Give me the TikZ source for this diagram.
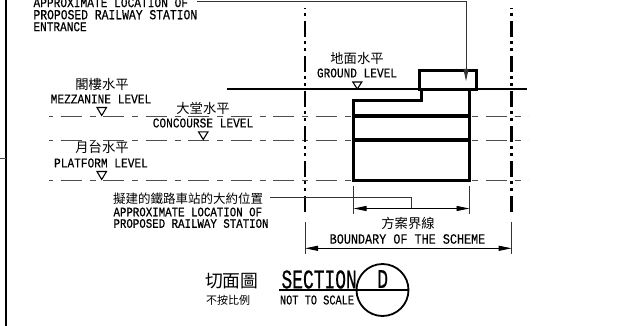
\documentclass[tikz,border=0pt]{standalone}
\usepackage{fontspec}
\usepackage{graphicx}
\usetikzlibrary{arrows.meta}
\newfontfamily\monof[FakeBold=0.3]{Liberation Mono}
\newfontfamily\monob[FakeBold=0.7]{Liberation Mono}
\newfontfamily\cjkf{Noto Sans CJK TC}
% #1 char advance in px (font size = adv/0.6), #2 vertical stretch, #3 text
\newcommand{\mtxt}[3]{\scalebox{1}[#2]{\fontsize{\fpeval{#1/0.6}pt}{12pt}\monof #3}}
\newcommand{\btxt}[3]{\scalebox{1}[#2]{\fontsize{\fpeval{#1/0.6}pt}{12pt}\monob #3}}
\newcommand{\ctxt}[2]{{\fontsize{#1pt}{#1pt}\cjkf #2}}
\tikzset{
  x=1pt,y=-1pt,
  lab/.style={inner sep=0pt,outer sep=0pt,text=black},
  labl/.style={lab,anchor=west},
  thickline/.style={line width=3pt,black,line cap=rect},
  border/.style={line width=2.6pt,black},
  thin leader/.style={line width=0.9pt,black!80},
  levelline/.style={line width=1pt,black!70,dash pattern=on 21pt off 8pt on 6pt off 7.5pt},
  axisline/.style={line width=2.7pt,black,dash pattern=on 16pt off 4pt on 3pt off 4pt on 3pt off 5pt,dash phase=22pt},
  dim/.style={line width=0.9pt,black,{Triangle[length=13pt,width=5pt]}-{Triangle[length=13pt,width=5pt]}},
  ext/.style={line width=0.8pt,black!80},
  tri/.style={line width=1.1pt,black,fill=white},
}
\begin{document}
\begin{tikzpicture}
\useasboundingbox (0,0) rectangle (620,326);
\fill[white] (0,0) rectangle (620,326);
% sheet border
\coordinate (bt) at (6,0); \coordinate (bb) at (6,326);
\coordinate (tl) at (0,158); \coordinate (tr) at (6,158);
\draw[border] (bt) -- (bb);
\draw[line width=0.9pt,black!70] (tl) -- (tr);
% level lines
\coordinate (m1) at (49,116); \coordinate (m2) at (528,116);
\coordinate (c1) at (49,140); \coordinate (c2) at (528,140);
\coordinate (p1) at (49,180); \coordinate (p2) at (528,180);
\draw[levelline,dash phase=31pt] (m1) -- (m2);
\draw[levelline,dash phase=31pt] (c1) -- (c2);
\draw[levelline,dash phase=31pt] (p1) -- (p2);
% axes
\coordinate (a1t) at (305,8); \coordinate (a1b) at (305,213);
\coordinate (a2t) at (511.7,8); \coordinate (a2b) at (511.7,213);
\draw[axisline] (a1t) -- (a1b);
\draw[axisline] (a2t) -- (a2b);
% ground
\coordinate (g1) at (227,88.5); \coordinate (g2) at (526.5,90.5);
\fill[black] (g1) rectangle (g2);
% station
\draw[thickline,line join=miter] (353.5,180) -- (353.5,100.5) -- (421,100.5) -- (421,89.5);
\draw[thickline] (353.5,180) -- (469.5,180) -- (469.5,89.5);
\draw[thickline] (419,89.5) -- (419,70.5) -- (476.5,70.5) -- (476.5,89.5) -- cycle;
\fill[black] (353.5,114.4) rectangle (469.5,117.6);
\fill[black] (353.5,138.4) rectangle (469.5,141.6);
% level triangles
\draw[tri] (352.8,82) -- (361.8,82) -- (357.3,89) -- cycle;
\draw[tri] (97,107.5) -- (106.5,107.5) -- (101.7,115.5) -- cycle;
\draw[tri] (198.5,131.8) -- (208,131.8) -- (203.2,139.5) -- cycle;
\draw[tri] (97,171.5) -- (106.5,171.5) -- (101.7,179.5) -- cycle;
% top label
\node[labl] (e1) at (33.5,2.6) {\btxt{6.72}{1.22}{APPROXIMATE LOCATION OF}};
\node[labl] (e2) at (33.5,14.7) {\btxt{6.82}{1.22}{PROPOSED RAILWAY STATION}};
\node[labl] (e3) at (33.5,26.7) {\btxt{6.65}{1.22}{ENTRANCE}};
\coordinate (el0) at (197,1.5); \coordinate (el1) at (466,1.5); \coordinate (el2) at (466,81);
\draw[thin leader,-{Triangle[length=12pt,width=5pt]}] (el0) -- (el1) -- (el2);
% level labels
\node[lab] (mz) at (102,84) {\ctxt{13.3}{閣樓水平}};
\node[lab] (mze) at (101,99) {\mtxt{6.7}{1.2}{MEZZANINE LEVEL}};
\node[lab] (cc) at (203,108) {\ctxt{13.3}{大堂水平}};
\node[lab] (cce) at (203,123) {\mtxt{6.7}{1.2}{CONCOURSE LEVEL}};
\node[lab] (pf) at (102,147) {\ctxt{13.3}{月台水平}};
\node[lab] (pfe) at (101,163) {\mtxt{6.7}{1.2}{PLATFORM LEVEL}};
\node[lab] (gl) at (357,58) {\ctxt{13.3}{地面水平}};
\node[lab] (gle) at (357,73) {\mtxt{6.67}{1.2}{GROUND LEVEL}};
% station label
\node[labl] (st) at (113,199) {\ctxt{12.5}{擬建的鐵路車站的大約位置}};
\node[labl] (ste1) at (113.5,212) {\btxt{6.46}{1.2}{APPROXIMATE LOCATION OF}};
\node[labl] (ste2) at (113.5,223.5) {\btxt{6.46}{1.2}{PROPOSED RAILWAY STATION}};
\coordinate (sl0) at (270,197.5); \coordinate (sl1) at (411.7,197.5); \coordinate (sl2) at (411.7,208.5);
\draw[thin leader] (sl0) -- (sl1) -- (sl2);
% inner dimension
\coordinate (d1) at (353.5,208.5); \coordinate (d2) at (469.5,208.5);
\coordinate (d1t) at (353.5,186); \coordinate (d1b) at (353.5,214);
\coordinate (d2t) at (469.5,186); \coordinate (d2b) at (469.5,214);
\draw[ext] (d1t) -- (d1b);
\draw[ext] (d2t) -- (d2b);
\draw[dim] (d1) -- (d2);
% outer dimension
\coordinate (o1) at (305,248.3); \coordinate (o2) at (511.7,248.3);
\coordinate (o1t) at (305,222); \coordinate (o1b) at (305,254);
\coordinate (o2t) at (511.7,222); \coordinate (o2b) at (511.7,254);
\draw[ext] (o1t) -- (o1b);
\draw[ext] (o2t) -- (o2b);
\draw[dim] (o1) -- (o2);
\node[lab] (bs) at (408,223) {\ctxt{13.3}{方案界線}};
\node[lab] (bse) at (407.5,239) {\mtxt{7.07}{1.2}{BOUNDARY OF THE SCHEME}};
% section title
\node[lab] (sc) at (231.7,281) {\ctxt{17.8}{切面圖}};
\node[lab] (ns) at (228,300) {\ctxt{11}{不按比例}};
\node[draw=black,line width=1.8pt,circle,minimum size=52pt,inner sep=0pt] (cir) at (382.5,290) {};
\coordinate (sline) at (279,290);
\draw[line width=1.8pt,black] (sline) -- (cir.east);
\node[labl] (sct) at (281.5,279.5) {\btxt{10.75}{1.5}{SECTION}};
\node[lab] (dl) at (382.7,279) {\btxt{10.75}{1.5}{D}};
\node[labl] (nts) at (280,300) {\mtxt{6.17}{1.3}{NOT TO SCALE}};
\end{tikzpicture}
\end{document}
